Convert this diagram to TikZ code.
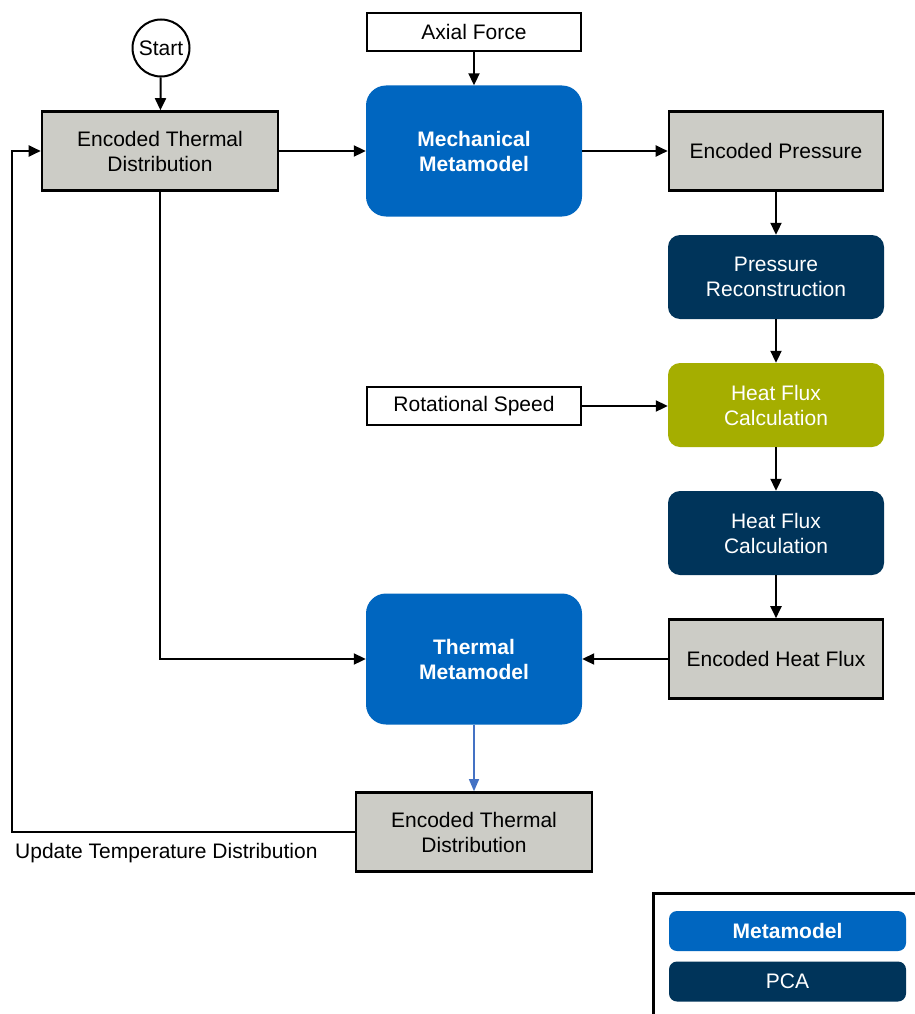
\documentclass[tikz,border=0pt]{standalone}
\usepackage{fontspec}
\setmainfont{Liberation Sans}
\usetikzlibrary{arrows.meta}
\definecolor{mblue}{RGB}{0,102,192}
\definecolor{mnavy}{RGB}{0,52,90}
\definecolor{mgreen}{RGB}{165,174,0}
\definecolor{mgray}{RGB}{204,204,198}
\definecolor{lblue}{RGB}{68,114,196}
\tikzset{
  x=1pt,y=-1pt,
  txt/.style={font=\fontsize{21}{25}\selectfont, align=center, text=black},
  graybox/.style={txt, draw=black, line width=2.6pt, fill=mgray, minimum width=236, minimum height=79, inner sep=0},
  inbox/.style={txt, draw=black, line width=2pt, fill=white, minimum width=214, minimum height=38, inner sep=0},
  metabox/.style={txt, text=white, font=\fontsize{21}{25}\selectfont\bfseries, fill=mblue, rounded corners=20, minimum width=216, minimum height=131, inner sep=0},
  pcabox/.style={txt, text=white, fill=mnavy, rounded corners=12, minimum width=216, minimum height=84, inner sep=0},
  greenbox/.style={txt, text=white, fill=mgreen, rounded corners=12, minimum width=216, minimum height=84, inner sep=0},
  conn/.style={line width=2pt, draw=black, -{Triangle[length=12,width=11]}},
}
\begin{document}
\begin{tikzpicture}
\useasboundingbox (0,0) rectangle (915,1014);
\fill[white] (0,0) rectangle (915,1014);

\node[txt, draw=black, line width=2pt, circle, minimum size=57, inner sep=0] (start) at (161,48) {Start};
\node[graybox] (etd) at (160,151) {Encoded Thermal\\Distribution};
\node[inbox] (axial) at (474,32) {Axial Force};
\node[metabox] (mech) at (474,151) {Mechanical\\Metamodel};
\node[graybox, minimum width=214] (ep) at (776,151) {Encoded Pressure};
\node[pcabox] (pr) at (776,277) {Pressure\\Reconstruction};
\node[greenbox] (hfc) at (776,405) {Heat Flux\\Calculation};
\node[inbox] (rs) at (474,406) {Rotational Speed};
\node[pcabox] (hfc2) at (776,533) {Heat Flux\\Calculation};
\node[graybox, minimum width=214] (ehf) at (776,659) {Encoded Heat Flux};
\node[metabox] (therm) at (474,659) {Thermal\\Metamodel};
\node[graybox] (etd2) at (474,832) {Encoded Thermal\\Distribution};
\node[txt, anchor=west, inner sep=0] (upd) at (15,853) {Update Temperature Distribution};

\draw[conn] (start) -- (etd);
\draw[conn] (etd.east) -- (mech.west |- etd.east);
\draw[conn] (axial) -- (mech);
\draw[conn] (mech.east |- ep.west) -- (ep.west);
\draw[conn] (ep) -- (pr);
\draw[conn] (pr) -- (hfc);
\draw[conn] (rs.east) -- (hfc.west |- rs.east);
\draw[conn] (hfc) -- (hfc2);
\draw[conn] (hfc2) -- (ehf);
\draw[conn] (ehf.west) -- (therm.east |- ehf.west);
\draw[conn] (etd.south) |- (therm.west);
\draw[line width=1.2pt, draw=lblue, -{Triangle[length=12,width=10]}] (therm) -- (etd2);
\coordinate (fb) at (12,832);
\draw[conn] (etd2.west) -- (fb) |- (etd.west);

% legend
\draw[line width=3pt] (653,1030) -- (653,893) -- (930,893);
\node[txt, text=white, font=\fontsize{21}{25}\selectfont\bfseries, fill=mblue, rounded corners=8, minimum width=237, minimum height=40, inner sep=0] (lmeta) at (787.5,931) {Metamodel};
\node[txt, text=white, fill=mnavy, rounded corners=8, minimum width=237, minimum height=40, inner sep=0] (lpca) at (787.5,981.5) {PCA};
\end{tikzpicture}
\end{document}
